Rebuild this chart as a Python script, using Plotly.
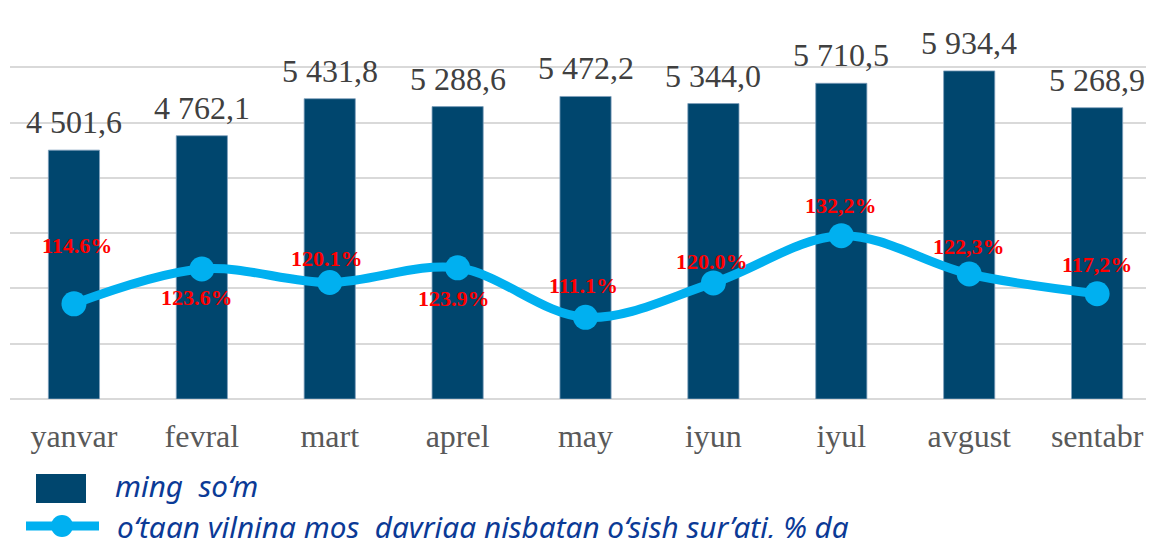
import plotly.graph_objects as go

# ---- data ----
months = ["yanvar", "fevral", "mart", "aprel", "may", "iyun", "iyul", "avgust", "sentabr"]
wage = [4501.6, 4762.1, 5431.8, 5288.6, 5472.2, 5344.0, 5710.5, 5934.4, 5268.9]
growth = [114.6, 123.6, 120.1, 123.9, 111.1, 120.0, 132.2, 122.3, 117.2]
growth_sep = [".", ".", ".", ".", ".", ".", ",", ",", ","]
legend_bar = "ming\u00a0 so\u2018m"
legend_line = "o\u2018tgan yilning mos\u00a0 davriga nisbatan o\u2018sish sur\u2019ati, % da"

# ---- styles ----
OFF = 8  # page body margin
W, H = 1154 - OFF, 538 - OFF
PLOT_L, PLOT_B = 10, 399          # plot-area edges in page pixels
ML, MR, MT = PLOT_L - OFF, 0, 3
MB = H - (PLOT_B - OFF)
PW, PH = W - ML - MR, H - MT - MB
PX_PER_UNIT_Y = 387 / 7000
Y_TOP = PH / PX_PER_UNIT_Y
Y2_TOP = 90 + 100 * PH / 387
BAR_COLOR = "#00466E"
LINE_COLOR = "#00B0F0"
SERIF = "Liberation Serif, Times New Roman, serif"
# label offsets (px) relative to each point: (dx, dy_up)
lab_dx = [3, -5, -3, -4, -2, -1, 0, 0, 0]
lab_dy = [58, -29, 24, -31, 32, 21, 30, 28, 29]


def px_x(px):
    return (px - PLOT_L) / PW


def px_y(py):
    return (PLOT_B - py) / PH


def fmt_wage(v):
    return f"{v:,.1f}".replace(",", " ").replace(".", ",")


def fmt_growth(v, sep):
    return f"{v:.1f}".replace(".", sep) + "%"


fig = go.Figure()
fig.add_trace(go.Bar(
    x=months, y=wage, width=0.4,
    marker=dict(color=BAR_COLOR, line=dict(color="#7f9fbd", width=0.8)),
    showlegend=False, hoverinfo="skip",
))
fig.add_trace(go.Scatter(
    x=months, y=growth, yaxis="y2", mode="lines+markers",
    line=dict(color=LINE_COLOR, width=9, shape="spline", smoothing=1.0),
    marker=dict(color=LINE_COLOR, size=25),
    showlegend=False, hoverinfo="skip",
))

annotations = []
for m, v in zip(months, wage):
    annotations.append(dict(
        x=m, y=v, xref="x", yref="y", text=fmt_wage(v), showarrow=False,
        xanchor="center", yanchor="middle", yshift=28,
        font=dict(family=SERIF, size=32, color="#404040"),
    ))
for i, (m, v) in enumerate(zip(months, growth)):
    annotations.append(dict(
        x=m, y=v, xref="x", yref="y2", text="<b>" + fmt_growth(v, growth_sep[i]) + "</b>",
        showarrow=False, xanchor="center", yanchor="middle",
        xshift=lab_dx[i], yshift=lab_dy[i],
        font=dict(family=SERIF, size=22, color="#FF0000"),
    ))

# custom legend
LEG_FONT = dict(family="Noto Sans, Open Sans, sans-serif", size=29.7, color="#0B3A96")
annotations.append(dict(
    x=px_x(113), y=px_y(485), xref="paper", yref="paper", text="<i>" + legend_bar + "</i>",
    showarrow=False, xanchor="left", yanchor="middle", font=LEG_FONT,
))
annotations.append(dict(
    x=px_x(115), y=px_y(526), xref="paper", yref="paper", text="<i>" + legend_line + "</i>",
    showarrow=False, xanchor="left", yanchor="middle", font=LEG_FONT,
))
shapes = [
    dict(type="rect", xref="paper", yref="paper", x0=px_x(36), x1=px_x(86), y0=px_y(503), y1=px_y(474),
         fillcolor=BAR_COLOR, line=dict(width=0)),
    dict(type="line", xref="paper", yref="paper", x0=px_x(26), x1=px_x(99), y0=px_y(526), y1=px_y(526),
         line=dict(color=LINE_COLOR, width=9)),
    dict(type="circle", xref="paper", yref="paper", x0=px_x(51), x1=px_x(73), y0=px_y(537), y1=px_y(515),
         fillcolor=LINE_COLOR, line=dict(width=0)),
]

fig.update_layout(
    width=W, height=H,
    margin=dict(l=ML, r=MR, t=MT, b=MB, pad=0),
    paper_bgcolor="white", plot_bgcolor="white",
    xaxis=dict(
        type="category", range=[-0.5, 8.445], showgrid=False, showline=False, zeroline=False,
        ticks="", ticklabelstandoff=15,
        tickfont=dict(family=SERIF, size=32, color="#595959"),
    ),
    yaxis=dict(
        range=[0, Y_TOP], tickmode="linear", tick0=0, dtick=1000, showticklabels=False, showgrid=True,
        gridcolor="#D9D9D9", gridwidth=1.5, zeroline=True, zerolinecolor="#D9D9D9",
        zerolinewidth=1.5, showline=False,
    ),
    yaxis2=dict(range=[90, Y2_TOP], overlaying="y", visible=False, showgrid=False),
    annotations=annotations,
    shapes=shapes,
    showlegend=False,
)

fig.write_html("out.html")
